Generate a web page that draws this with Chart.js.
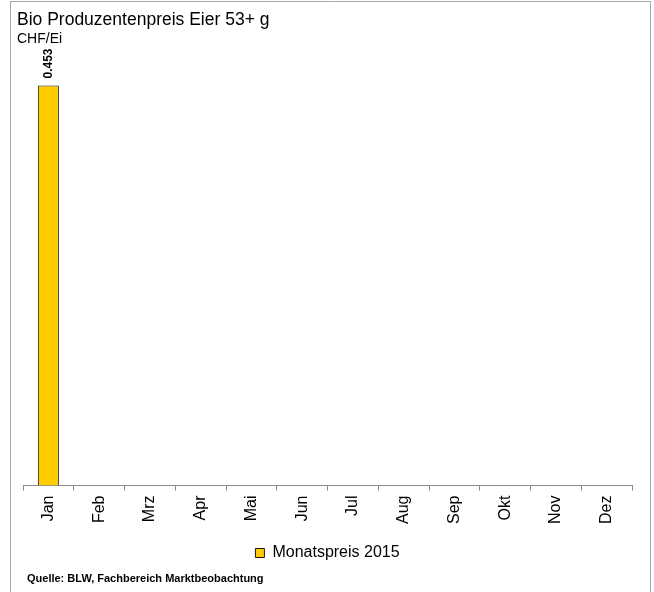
<!DOCTYPE html>
<html>
<head>
<meta charset="utf-8">
<script src="https://cdn.jsdelivr.net/npm/chart.js@4/dist/chart.umd.min.js"></script>
<style>
  html, body { margin: 0; padding: 0; background: #fff; }
  #wrap { position: relative; width: 654px; height: 592px; }
</style>
</head>
<body>
<div id="wrap"><canvas id="eggChart" width="654" height="592"></canvas></div>
<script>
// chart data
const months = ["Jan", "Feb", "Mrz", "Apr", "Mai", "Jun", "Jul", "Aug", "Sep", "Okt", "Nov", "Dez"];
const prices2015 = [0.453, null, null, null, null, null, null, null, null, null, null, null];
const seriesLabel = "Monatspreis 2015";
const chartTitle = "Bio Produzentenpreis Eier 53+ g";
const unitLabel = "CHF/Ei";
const sourceText = "Quelle: BLW, Fachbereich Marktbeobachtung";

const fontFamily = "'Liberation Sans', Arial, sans-serif";

// frame, title, unit and source text
const decorPlugin = {
  id: "decor",
  beforeDraw(chart) {
    const ctx = chart.ctx;
    ctx.save();
    ctx.fillStyle = "#fff";
    ctx.fillRect(0, 0, chart.width, chart.height);
    ctx.strokeStyle = "#a6a6a6";
    ctx.lineWidth = 1;
    ctx.beginPath();
    ctx.moveTo(10.5, chart.height);
    ctx.lineTo(10.5, 1.5);
    ctx.lineTo(650.5, 1.5);
    ctx.lineTo(650.5, chart.height);
    ctx.stroke();
    ctx.restore();
  },
  afterDraw(chart) {
    const ctx = chart.ctx;
    ctx.save();
    ctx.fillStyle = "#000";
    ctx.textBaseline = "alphabetic";
    ctx.textAlign = "left";
    ctx.font = "17.5px " + fontFamily;
    ctx.fillText(chartTitle, 17, 25);
    ctx.font = "14px " + fontFamily;
    ctx.fillText(unitLabel, 17, 43);
    ctx.font = "bold 11px " + fontFamily;
    ctx.fillText(sourceText, 27, 582);
    ctx.restore();
  }
};

// value label above the bar, rotated
const valueLabelPlugin = {
  id: "valueLabels",
  afterDatasetsDraw(chart) {
    const ctx = chart.ctx;
    const meta = chart.getDatasetMeta(0);
    ctx.save();
    ctx.font = "bold 12px " + fontFamily;
    ctx.fillStyle = "#000";
    ctx.textAlign = "left";
    ctx.textBaseline = "middle";
    meta.data.forEach((bar, i) => {
      const v = prices2015[i];
      if (v === null) return;
      ctx.save();
      ctx.translate(bar.x, bar.y - 7);
      ctx.rotate(-Math.PI / 2);
      ctx.fillText(v.toFixed(3), 0, 0);
      ctx.restore();
    });
    ctx.restore();
  }
};

new Chart(document.getElementById("eggChart"), {
  type: "bar",
  data: {
    labels: months,
    datasets: [
      {
        label: seriesLabel,
        data: prices2015,
        backgroundColor: "#ffcc00",
        borderColor: "#1a1a1a",
        borderWidth: 1,
        barPercentage: 0.414,
        categoryPercentage: 1
      }
    ]
  },
  options: {
    responsive: false,
    animation: false,
    devicePixelRatio: 1,
    layout: {
      padding: { left: 23, right: 22, top: 44, bottom: 21 }
    },
    scales: {
      x: {
        grid: {
          offset: true,
          drawOnChartArea: false,
          drawTicks: true,
          tickLength: 5,
          color: "#8c8c8c"
        },
        border: { color: "#8c8c8c" },
        ticks: {
          minRotation: 90,
          maxRotation: 90,
          padding: 5,
          color: "#000",
          font: { family: fontFamily, size: 16 }
        }
      },
      y: {
        display: false,
        min: 0,
        max: 0.5
      }
    },
    plugins: {
      title: { display: false },
      tooltip: { enabled: false },
      legend: {
        position: "bottom",
        labels: {
          boxWidth: 9,
          boxHeight: 9,
          padding: 16,
          color: "#000",
          font: { family: fontFamily, size: 16 }
        }
      }
    }
  },
  plugins: [decorPlugin, valueLabelPlugin]
});
</script>
</body>
</html>
